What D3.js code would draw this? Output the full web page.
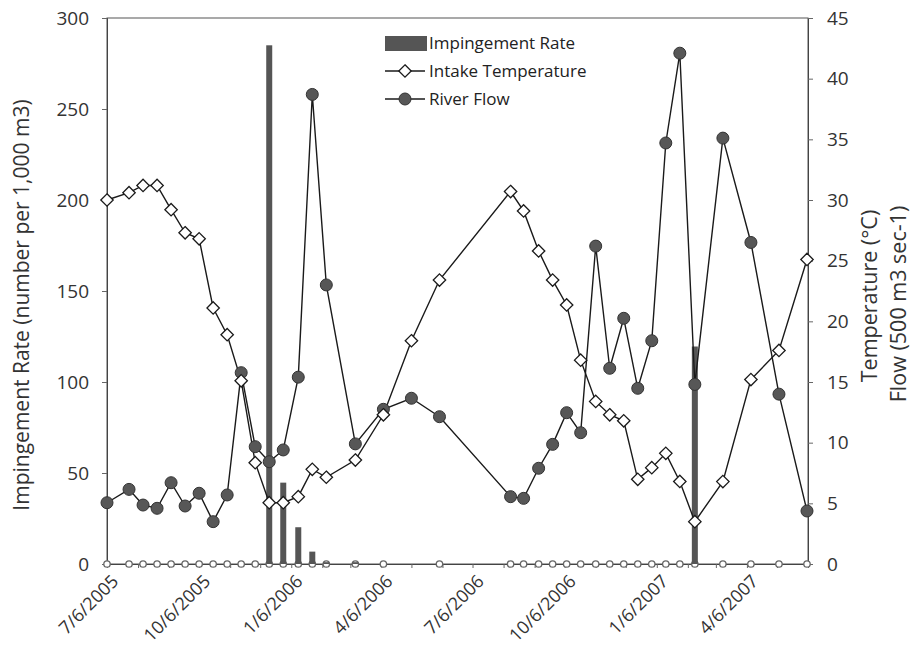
<!DOCTYPE html>
<html>
<head>
<meta charset="utf-8">
<script src="https://cdn.jsdelivr.net/npm/d3@7"></script>
<style>
  body { margin: 0; background: #fff; }
  svg { display: block; font-family: "Open Sans", sans-serif; }
</style>
</head>
<body>
<svg id="chart" width="912" height="656"></svg>
<script>
// ---- Data ----
const sampleDates = ["7/6/2005","7/28/2005","8/11/2005","8/25/2005","9/8/2005","9/22/2005","10/6/2005","10/20/2005","11/3/2005","11/17/2005","12/1/2005","12/15/2005","12/29/2005","1/13/2006","1/27/2006","2/10/2006","3/11/2006","4/8/2006","5/6/2006","6/3/2006","8/13/2006","8/26/2006","9/10/2006","9/24/2006","10/8/2006","10/22/2006","11/6/2006","11/20/2006","12/4/2006","12/18/2006","1/1/2007","1/15/2007","1/29/2007","2/13/2007","3/13/2007","4/10/2007","5/8/2007","6/5/2007"];
const intakeTemperature = [30.0,30.6,31.2,31.2,29.2,27.3,26.8,21.1,18.9,15.1,8.35,5.05,5.05,5.55,7.8,7.15,8.57,12.3,18.4,23.4,30.7,29.1,25.8,23.4,21.35,16.8,13.4,12.3,11.8,6.98,7.94,9.12,6.8,3.49,6.79,15.2,17.6,25.1];
const riverFlow = [5.05,6.15,4.86,4.59,6.7,4.78,5.83,3.49,5.69,15.77,9.67,8.43,9.4,15.4,38.7,23.0,9.9,12.75,13.66,12.14,5.55,5.41,7.89,9.86,12.47,10.82,26.2,16.13,20.25,14.48,18.4,34.7,42.1,14.8,35.1,26.5,14.0,4.37];

const impDates = ["7/6/2005","7/28/2005","8/11/2005","8/25/2005","9/8/2005","9/22/2005","10/6/2005","10/20/2005","11/3/2005","11/17/2005","12/1/2005","12/15/2005","12/29/2005","1/13/2006","1/27/2006","2/10/2006","3/11/2006","4/8/2006","6/3/2006","8/13/2006","8/26/2006","9/10/2006","9/24/2006","10/8/2006","10/22/2006","11/6/2006","11/20/2006","12/4/2006","12/18/2006","1/1/2007","1/15/2007","1/29/2007","2/13/2007","3/13/2007","4/10/2007","5/8/2007","6/5/2007"];
const impingementRate = [0,0,0,0,0,0,0,0,0,0,0,285,44.7,20.2,6.8,1,1,0,0,0,0,0,0,0,0,0,0,0,0,0,0,0,119.5,0,0,0,0];

const xTickLabels = ["7/6/2005","10/6/2005","1/6/2006","4/6/2006","7/6/2006","10/6/2006","1/6/2007","4/6/2007"];
const leftTicks = [0,50,100,150,200,250,300];
const rightTicks = [0,5,10,15,20,25,30,35,40,45];
const xDomain = ["7/6/2005","6/6/2007"];

// ---- Setup ----
const parse = d3.timeParse("%m/%d/%Y");
const svg = d3.select("#chart");
const L = 107, R = 808, T = 18, B = 564;

const x = d3.scaleTime().domain(xDomain.map(parse)).range([L, R]);
const yL = d3.scaleLinear().domain([0, 300]).range([B, T]);
const yR = d3.scaleLinear().domain([0, 45]).range([B, T]);

const axisColor = "#444";
const lineColor = "#1a1a1a";
const barColor = "#555";
const textColor = "#333";

// plot frame
svg.append("rect").attr("x", L).attr("y", T).attr("width", R - L).attr("height", B - T)
  .attr("fill", "none").attr("stroke", "#555").attr("stroke-width", 1);

// Left axis
const gL = svg.append("g").attr("transform", `translate(${L},0)`);
gL.call(d3.axisLeft(yL).tickValues(d3.range(0, 301, 10).filter(v => v % 50 !== 0)).tickSize(3).tickFormat(""));
gL.call(d3.axisLeft(yL).tickValues(leftTicks).tickSize(5).tickPadding(13).tickFormat(d3.format("d")));
gL.selectAll("path.domain").attr("stroke", axisColor);
gL.selectAll("line").attr("stroke", "#666");
gL.selectAll("text").attr("font-size", 19).attr("fill", textColor).attr("font-family", "Open Sans, sans-serif");

// Right axis
const gR = svg.append("g").attr("transform", `translate(${R},0)`);
gR.call(d3.axisRight(yR).tickValues(d3.range(0, 46, 1).filter(v => v % 5 !== 0)).tickSize(3).tickFormat(""));
gR.call(d3.axisRight(yR).tickValues(rightTicks).tickSize(5).tickPadding(14).tickFormat(d3.format("d")));
gR.selectAll("path.domain").attr("stroke", axisColor);
gR.selectAll("line").attr("stroke", "#666");
gR.selectAll("text").attr("font-size", 19).attr("fill", textColor).attr("font-family", "Open Sans, sans-serif");

// Bottom axis: monthly ticks
const gB = svg.append("g").attr("transform", `translate(0,${B})`);
const monthTicks = d3.timeMonth.range(parse("7/1/2005"), parse("6/7/2007")).map(d => new Date(d.getFullYear(), d.getMonth(), 6));
gB.call(d3.axisBottom(x).tickValues(monthTicks).tickSize(4).tickFormat(""));
gB.selectAll("path.domain").attr("stroke", axisColor);
gB.selectAll("line").attr("stroke", "#666");

// x tick labels rotated
svg.append("g").selectAll("text").data(xTickLabels).join("text")
  .attr("transform", d => `translate(${x(parse(d)) + 8},${B + 14}) rotate(-45)`)
  .attr("text-anchor", "end").attr("dy", "0.35em")
  .attr("font-size", 18).attr("fill", textColor)
  .text(d => d);

// Impingement baseline markers
svg.append("g").selectAll("circle").data(impDates).join("circle")
  .attr("cx", d => x(parse(d))).attr("cy", yL(0))
  .attr("r", 3.2).attr("fill", "#fff").attr("stroke", "#666").attr("stroke-width", 1.3);

// Impingement bars
const barW = 6;
svg.append("g").selectAll("rect").data(impDates.map((d, i) => ({ d: parse(d), v: impingementRate[i] })).filter(o => o.v > 0)).join("rect")
  .attr("x", o => x(o.d) - barW / 2).attr("y", o => yL(o.v))
  .attr("width", barW).attr("height", o => yL(0) - yL(o.v))
  .attr("fill", barColor);

// Lines
const tempData = sampleDates.map((d, i) => ({ d: parse(d), v: intakeTemperature[i] }));
const flowData = sampleDates.map((d, i) => ({ d: parse(d), v: riverFlow[i] }));
const line = d3.line().x(o => x(o.d)).y(o => yR(o.v));

svg.append("path").datum(flowData).attr("d", line).attr("fill", "none").attr("stroke", lineColor).attr("stroke-width", 1.4);
svg.append("path").datum(tempData).attr("d", line).attr("fill", "none").attr("stroke", lineColor).attr("stroke-width", 1.4);

// Flow markers
const flowSym = d3.symbol().type(d3.symbolCircle).size(Math.PI * 36);
svg.append("g").selectAll("path").data(flowData).join("path")
  .attr("transform", o => `translate(${x(o.d)},${yR(o.v)})`)
  .attr("d", flowSym).attr("fill", "#575757").attr("stroke", "#333").attr("stroke-width", 1);

// Temperature markers (diamonds)
const dia = 6.2;
const diamondPath = `M0,${-dia}L${dia},0L0,${dia}L${-dia},0Z`;
svg.append("g").selectAll("path").data(tempData).join("path")
  .attr("transform", o => `translate(${x(o.d)},${yR(o.v)})`)
  .attr("d", diamondPath).attr("fill", "#fff").attr("stroke", lineColor).attr("stroke-width", 1.3);

// Legend
const lg = svg.append("g");
lg.append("rect").attr("x", 385).attr("y", 36).attr("width", 42).attr("height", 15).attr("fill", barColor);
lg.append("text").attr("x", 429).attr("y", 49).attr("font-size", 17).attr("fill", "#222").text("Impingement Rate");
lg.append("line").attr("x1", 385).attr("x2", 425).attr("y1", 71).attr("y2", 71).attr("stroke", lineColor).attr("stroke-width", 1.4);
lg.append("path").attr("transform", "translate(405,71)").attr("d", diamondPath).attr("fill", "#fff").attr("stroke", lineColor).attr("stroke-width", 1.3);
lg.append("text").attr("x", 429).attr("y", 77).attr("font-size", 17).attr("fill", "#222").text("Intake Temperature");
lg.append("line").attr("x1", 385).attr("x2", 425).attr("y1", 99).attr("y2", 99).attr("stroke", lineColor).attr("stroke-width", 1.4);
lg.append("path").attr("transform", "translate(405,99)").attr("d", flowSym).attr("fill", "#575757").attr("stroke", "#333");
lg.append("text").attr("x", 429).attr("y", 105).attr("font-size", 17).attr("fill", "#222").text("River Flow");

// Axis titles
svg.append("text").attr("transform", `translate(29,${(T + B) / 2 + 14}) rotate(-90)`)
  .attr("text-anchor", "middle").attr("font-size", 21).attr("fill", textColor)
  .text("Impingement Rate (number per 1,000 m3)");
svg.append("text").attr("transform", `translate(877,${(T + B) / 2 + 5}) rotate(-90)`)
  .attr("text-anchor", "middle").attr("font-size", 21.5).attr("fill", textColor)
  .text("Temperature (°C)");
svg.append("text").attr("transform", `translate(906,${(T + B) / 2 + 13}) rotate(-90)`)
  .attr("text-anchor", "middle").attr("font-size", 21.5).attr("fill", textColor)
  .text("Flow (500 m3 sec-1)");
</script>
</body>
</html>
